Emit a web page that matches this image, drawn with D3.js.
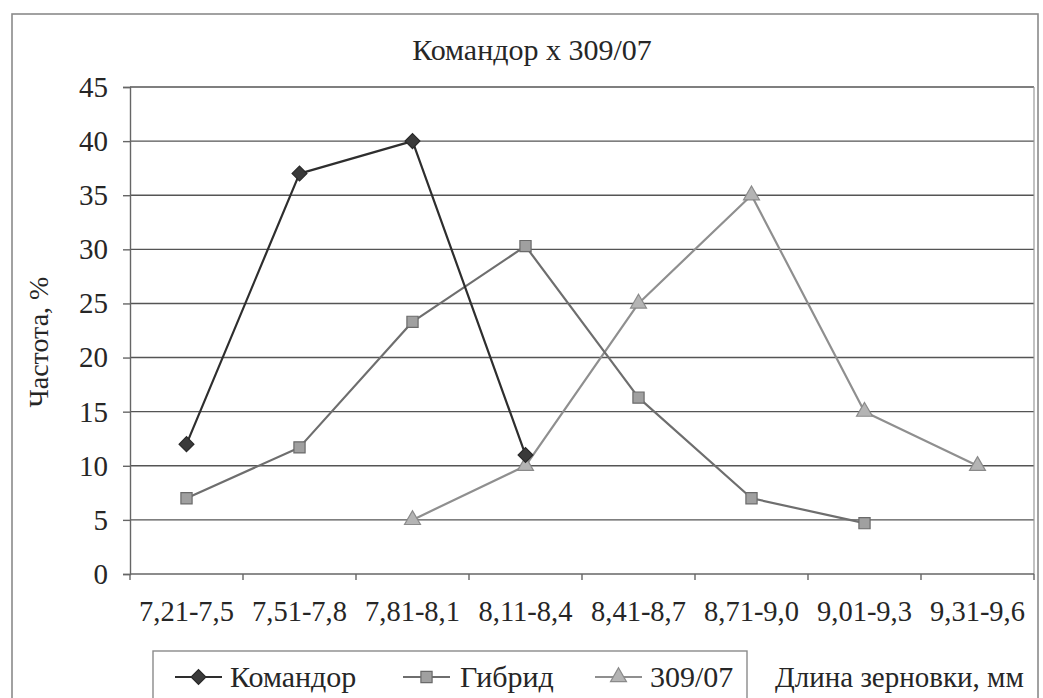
<!DOCTYPE html>
<html><head><meta charset="utf-8"><script src="https://cdn.jsdelivr.net/npm/d3@7"></script></head>
<body style="margin:0">
<svg id="s" width="1043" height="698" font-family="Liberation Serif"></svg>
<script>
// Grain length classes (mm)
const categories = ["7,21-7,5", "7,51-7,8", "7,81-8,1", "8,11-8,4", "8,41-8,7", "8,71-9,0", "9,01-9,3", "9,31-9,6"];

// Frequency, % per class (null = no grains in that class)
const komandor = [12, 37, 40, 11, null, null, null, null];
const gibrid   = [7, 11.7, 23.3, 30.3, 16.3, 7, 4.7, null];
const line30907 = [null, null, 5, 10, 25, 35, 15, 10];

const seriesNames = ["Командор", "Гибрид", "309/07"];
const yTicks = [0, 5, 10, 15, 20, 25, 30, 35, 40, 45];

const title = "Командор х 309/07";
const yTitle = "Частота, %";
const xTitle = "Длина зерновки, мм";

const TEXT_COLOR = "#262626";

const svg = d3.select("#s");

// Every label goes through this helper so the serif face is set on the element itself
function label(parent, str, size) {
  return parent.append("text")
    .attr("font-size", size)
    .attr("fill", TEXT_COLOR)
    .style("font-family", "Liberation Serif")
    .text(str);
}

const plot = { left: 130, right: 1034, top: 87, bottom: 574 };

const x = d3.scaleBand().domain(categories).range([plot.left, plot.right]).padding(0);
const y = d3.scaleLinear().domain([0, 45]).range([plot.bottom, plot.top]);

// Outer chart frame
svg.append("rect")
  .attr("x", 12).attr("y", 14).attr("width", 1026).attr("height", 700)
  .attr("fill", "none").attr("stroke", "#8a8a8a").attr("stroke-width", 1.6);

// Title
label(svg, title, 30).attr("x", 532).attr("y", 60).attr("text-anchor", "middle");

// Horizontal gridlines
svg.append("g").selectAll("line")
  .data(yTicks.filter(t => t > 0))
  .join("line")
  .attr("x1", plot.left).attr("x2", plot.right)
  .attr("y1", d => y(d)).attr("y2", d => y(d))
  .attr("stroke", "#555").attr("stroke-width", 1.4);

// Right edge of plot area
svg.append("line")
  .attr("x1", plot.right).attr("x2", plot.right)
  .attr("y1", plot.top).attr("y2", plot.bottom)
  .attr("stroke", "#9a9a9a").attr("stroke-width", 1.2);

// Y axis: line and outward ticks from the axis generator, labels drawn as plain text
const yAxis = svg.append("g")
  .attr("transform", `translate(${plot.left},0)`)
  .call(d3.axisLeft(y).tickValues(yTicks).tickSize(7).tickFormat(""));
yAxis.select(".domain").attr("stroke", "#666").attr("stroke-width", 1.4);
yAxis.selectAll(".tick line").attr("stroke", "#666").attr("stroke-width", 1.4);
yTicks.forEach(t => {
  label(svg, String(t), 29)
    .attr("x", plot.left - 22).attr("y", y(t)).attr("dy", "0.34em")
    .attr("text-anchor", "end");
});

// X axis: baseline, ticks at class boundaries, labels at class centres
svg.append("line")
  .attr("x1", plot.left).attr("x2", plot.right)
  .attr("y1", plot.bottom).attr("y2", plot.bottom)
  .attr("stroke", "#666").attr("stroke-width", 1.4);
const boundaries = categories.map(c => x(c)).concat([x(categories[categories.length - 1]) + x.bandwidth()]);
svg.append("g").selectAll("line")
  .data(boundaries)
  .join("line")
  .attr("x1", d => d).attr("x2", d => d)
  .attr("y1", plot.bottom).attr("y2", plot.bottom + 6)
  .attr("stroke", "#666").attr("stroke-width", 1.4);
categories.forEach(c => {
  label(svg, c, 28.5)
    .attr("x", x(c) + x.bandwidth() / 2).attr("y", 621)
    .attr("text-anchor", "middle");
});

// Y axis title
label(svg, yTitle, 28)
  .attr("transform", "translate(48,342) rotate(-90)")
  .attr("text-anchor", "middle");

// Series
const series = [
  { name: seriesNames[0], values: komandor, stroke: "#2e2e2e", fill: "#3a3a3a", mstroke: "#2a2a2a", symbol: "diamond" },
  { name: seriesNames[1], values: gibrid,   stroke: "#6e6e6e", fill: "#a0a0a0", mstroke: "#6a6a6a", symbol: "square" },
  { name: seriesNames[2], values: line30907, stroke: "#8f8f8f", fill: "#b4b4b4", mstroke: "#8a8a8a", symbol: "triangle" }
];

function symbolPath(kind) {
  if (kind === "diamond") return d3.symbol(d3.symbolSquare, 110)();
  if (kind === "square") return d3.symbol(d3.symbolSquare, 125)();
  return d3.symbol(d3.symbolTriangle, 110)();
}
function symbolRotate(kind) { return kind === "diamond" ? 45 : 0; }

const line = d3.line()
  .defined(d => d.v != null)
  .x(d => x(d.c) + x.bandwidth() / 2)
  .y(d => y(d.v));

// Lighter series first so the dark one sits on top
[...series].reverse().forEach(s => {
  const pts = categories.map((c, i) => ({ c, v: s.values[i] }));
  svg.append("path")
    .datum(pts)
    .attr("d", line)
    .attr("fill", "none")
    .attr("stroke", s.stroke)
    .attr("stroke-width", 2.2)
    .attr("stroke-linejoin", "round");
  svg.append("g").selectAll("path")
    .data(pts.filter(d => d.v != null))
    .join("path")
    .attr("d", symbolPath(s.symbol))
    .attr("transform", d => `translate(${x(d.c) + x.bandwidth() / 2},${y(d.v)}) rotate(${symbolRotate(s.symbol)})`)
    .attr("fill", s.fill)
    .attr("stroke", s.mstroke)
    .attr("stroke-width", 1.2);
});

// Legend
svg.append("rect")
  .attr("x", 153).attr("y", 651).attr("width", 594).attr("height", 60)
  .attr("fill", "#fff").attr("stroke", "#8a8a8a").attr("stroke-width", 1.4);

const legendItems = [
  { s: series[0], lx: 175, tx: 230 },
  { s: series[1], lx: 403, tx: 460 },
  { s: series[2], lx: 595, tx: 650 }
];
legendItems.forEach(it => {
  const cy = 677;
  svg.append("line")
    .attr("x1", it.lx).attr("x2", it.lx + 47)
    .attr("y1", cy).attr("y2", cy)
    .attr("stroke", it.s.stroke).attr("stroke-width", 2.2);
  svg.append("path")
    .attr("d", symbolPath(it.s.symbol))
    .attr("transform", `translate(${it.lx + 23.5},${cy}) rotate(${symbolRotate(it.s.symbol)})`)
    .attr("fill", it.s.fill).attr("stroke", it.s.mstroke).attr("stroke-width", 1.2);
  label(svg, it.s.name, 30).attr("x", it.tx).attr("y", cy + 10);
});

// X axis title
label(svg, xTitle, 29).attr("x", 775).attr("y", 687);
</script>
</body>
</html>
